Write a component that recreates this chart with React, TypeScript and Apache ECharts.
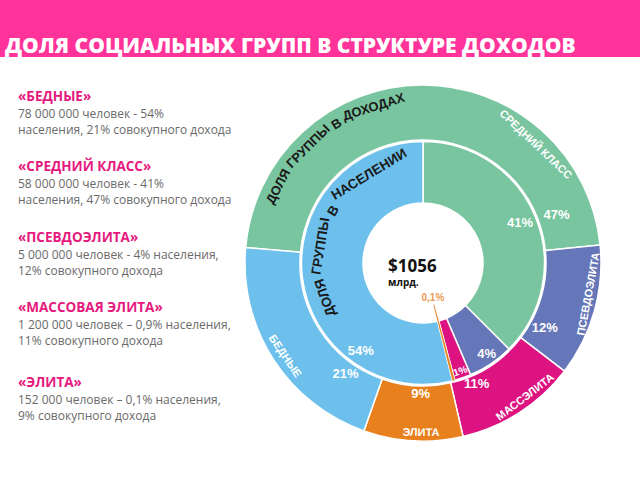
import React, { useEffect, useRef } from 'react';
import * as echarts from 'echarts';

// ---- data ----
const titleText = 'ДОЛЯ СОЦИАЛЬНЫХ ГРУПП В СТРУКТУРЕ ДОХОДОВ';
const groupTitles = ['«БЕДНЫЕ»', '«СРЕДНИЙ КЛАСС»', '«ПСЕВДОЭЛИТА»', '«МАССОВАЯ ЭЛИТА»', '«ЭЛИТА»'];
const groupLines = [
  ['78 000 000 человек - 54%', 'населения, 21% совокупного дохода'],
  ['58 000 000 человек - 41%', 'населения, 47% совокупного дохода'],
  ['5 000 000 человек - 4% населения,', '12% совокупного дохода'],
  ['1 200 000 человек – 0,9% населения,', '11% совокупного дохода'],
  ['152 000 человек – 0,1% населения,', '9% совокупного дохода'],
];
// ring order (clockwise): middle class, pseudo-elite, mass elite, elite, poor
const ringNames = ['СРЕДНИЙ КЛАСС', 'ПСЕВДОЭЛИТА', 'МАССЭЛИТА', 'ЭЛИТА', 'БЕДНЫЕ'];
const incomeShare = [47, 12, 11, 9, 21];
const incomeLabels = ['47%', '12%', '11%', '9%', '21%'];
// inner ring arc shares as drawn in the picture
const populationArc = [37.5, 6.1, 2.2, 0.3, 53.9];
const populationLabels = ['41%', '4%', '1%', '0,1%', '54%'];
const totalText = '$1056';
const totalUnit = 'млрд.';
const outerRingTitle = 'ДОЛЯ ГРУППЫ В ДОХОДАХ';
const innerRingTitle = 'ДОЛЯ ГРУППЫ В НАСЕЛЕНИИ';

// ---- layout / style ----
const colors = ['#79c59f', '#6577b8', '#dd1381', '#e8801e', '#6dc0ec'];
const CX = 423;
const CY = 263;
const blockY = [96, 166, 237, 307, 382];
const incomeLabelPos = [[70, 142], [118, 138], [156, 132], [181, 131], [215, 135]];
const popLabelPos = [[67.6, 105], [145, 111], [161, 114], [164, 36], [215.5, 107]];
const namePos = [[43.5, 164], [100.6, 168], [142.7, 168], [180.7, 169], [236, 166]];

const SANS = '"Liberation Sans", Arial, sans-serif';
const OPEN = '"Open Sans", sans-serif';
const ZT = 100;

function polar(theta: number, r: number) {
  const t = (theta * Math.PI) / 180;
  return [CX + r * Math.sin(t), CY - r * Math.cos(t)];
}
function tangentRot(theta: number) {
  const th = ((theta % 360) + 360) % 360;
  const deg = th > 90 && th < 270 ? 180 - th : -th;
  return (deg * Math.PI) / 180;
}

function measure(text: string, font: string) {
  const c = document.createElement('canvas').getContext('2d')!;
  c.font = font;
  return c.measureText(text).width;
}

// words placed along an arc, reading clockwise
function arcWords(phrase: string, thetaC: number, r: number, size: number, fill: string) {
  const font = `bold ${size}px ${SANS}`;
  const words = phrase.split(' ');
  const widths = words.map((w) => measure(w, font));
  const space = measure(' ', font) * 1.1;
  const total = widths.reduce((a, b) => a + b, 0) + space * (words.length - 1);
  const extent = (total / r) * (180 / Math.PI);
  let off = 0;
  const start = thetaC - extent / 2;
  return words.map((w, i) => {
    const th = start + ((off + widths[i] / 2) / r) * (180 / Math.PI);
    off += widths[i] + space;
    const [x, y] = polar(th, r);
    return {
      type: 'text',
      x,
      y,
      z: ZT,
      rotation: (-th * Math.PI) / 180,
      silent: true,
      style: { text: w, fill, fontSize: size, fontWeight: 'bold', fontFamily: SANS, align: 'center', verticalAlign: 'middle' },
    };
  });
}

export default function App() {
  const ref = useRef<HTMLDivElement>(null);
  useEffect(() => {
    const chart = echarts.init(ref.current!, null, { renderer: 'svg' });
    const graphics: any[] = [];
    graphics.push({ type: 'rect', shape: { x: 0, y: 0, width: 640, height: 57 }, style: { fill: '#ff3399' }, silent: true });
    graphics.push({
      type: 'text', x: 5, y: 45, silent: true, z: ZT,
      style: { text: titleText, fill: '#ffffff', fontSize: 21, fontWeight: 800, fontFamily: OPEN, align: 'left', verticalAlign: 'middle' },
    });
    groupTitles.forEach((t, i) => {
      graphics.push({
        type: 'text', x: 18, y: blockY[i], silent: true, z: ZT,
        style: { text: t, fill: '#e6197e', fontSize: 13.5, fontWeight: 'bold', fontFamily: OPEN, align: 'left', verticalAlign: 'middle' },
      });
      groupLines[i].forEach((l, j) => {
        graphics.push({
          type: 'text', x: 18, y: blockY[i] + 17.5 + j * 15.5, silent: true, z: ZT,
          style: { text: l, fill: '#6a6a6a', fontSize: 12, fontFamily: OPEN, align: 'left', verticalAlign: 'middle' },
        });
      });
    });
    // percentage labels, outer ring
    incomeLabels.forEach((t, i) => {
      const [x, y] = polar(incomeLabelPos[i][0], incomeLabelPos[i][1]);
      graphics.push({
        type: 'text', x, y, silent: true, z: ZT,
        style: { text: t, fill: '#ffffff', fontSize: 13, fontWeight: 'bold', fontFamily: SANS, align: 'center', verticalAlign: 'middle' },
      });
    });
    // percentage labels, inner ring
    populationLabels.forEach((t, i) => {
      const [x, y] = polar(popLabelPos[i][0], popLabelPos[i][1]);
      const small = i === 2 || i === 3;
      graphics.push({
        type: 'text', x, y, silent: true, z: ZT,
        rotation: i === 2 ? tangentRot(popLabelPos[i][0]) : 0,
        style: {
          text: t, fill: i === 3 ? '#ec9a52' : '#ffffff', fontSize: small ? 10 : 13, fontWeight: 'bold',
          fontFamily: SANS, align: 'center', verticalAlign: 'middle',
        },
      });
    });
    // group names in outer ring
    ringNames.forEach((t, i) => {
      const [x, y] = polar(namePos[i][0], namePos[i][1]);
      graphics.push({
        type: 'text', x, y, silent: true, z: ZT, rotation: tangentRot(namePos[i][0]),
        style: { text: t, fill: '#ffffff', fontSize: 11, fontWeight: 'bold', fontFamily: SANS, align: 'center', verticalAlign: 'middle' },
      });
    });
    graphics.push(...arcWords(outerRingTitle, 322.5, 164, 13, '#1a1a1a'));
    graphics.push(...arcWords(innerRingTitle, 296, 104, 13.5, '#1a1a1a'));
    graphics.push({
      type: 'text', x: 388, y: 265, silent: true, z: ZT,
      style: { text: totalText, fill: '#111', fontSize: 17, fontWeight: 'bold', fontFamily: OPEN, align: 'left', verticalAlign: 'middle' },
    });
    graphics.push({
      type: 'text', x: 388, y: 282, silent: true, z: ZT,
      style: { text: totalUnit, fill: '#111', fontSize: 10, fontWeight: 'bold', fontFamily: OPEN, align: 'left', verticalAlign: 'middle' },
    });

    const base = {
      type: 'pie',
      center: [CX, CY],
      clockwise: true,
      silent: true,
      label: { show: false },
      labelLine: { show: false },
      emphasis: { disabled: true },
      avoidLabelOverlap: false,
    };
    chart.setOption({
      animation: false,
      graphic: graphics,
      series: [
        {
          ...base,
          radius: [123, 178],
          startAngle: 175,
          itemStyle: { borderColor: '#ffffff', borderWidth: 1.5 },
          data: incomeShare.map((v, i) => ({ value: v, name: ringNames[i], itemStyle: { color: colors[i] } })),
        },
        {
          ...base,
          radius: [60, 121.5],
          startAngle: 90,
          itemStyle: { borderColor: '#ffffff', borderWidth: 1.5 },
          data: populationArc.map((v, i) => ({ value: v, name: ringNames[i], itemStyle: { color: colors[i] } })),
        },
        {
          ...base,
          radius: [43, 121.5],
          startAngle: 90,
          z: 3,
          data: populationArc.map((v, i) => ({
            value: v,
            name: ringNames[i],
            itemStyle: { color: i === 3 ? colors[3] : 'rgba(0,0,0,0)', borderWidth: 0 },
          })),
        },
      ],
    });
    return () => chart.dispose();
  }, []);
  return <div ref={ref} style={{ position: 'absolute', left: 0, top: 0, width: 640, height: 480 }} />;
}
